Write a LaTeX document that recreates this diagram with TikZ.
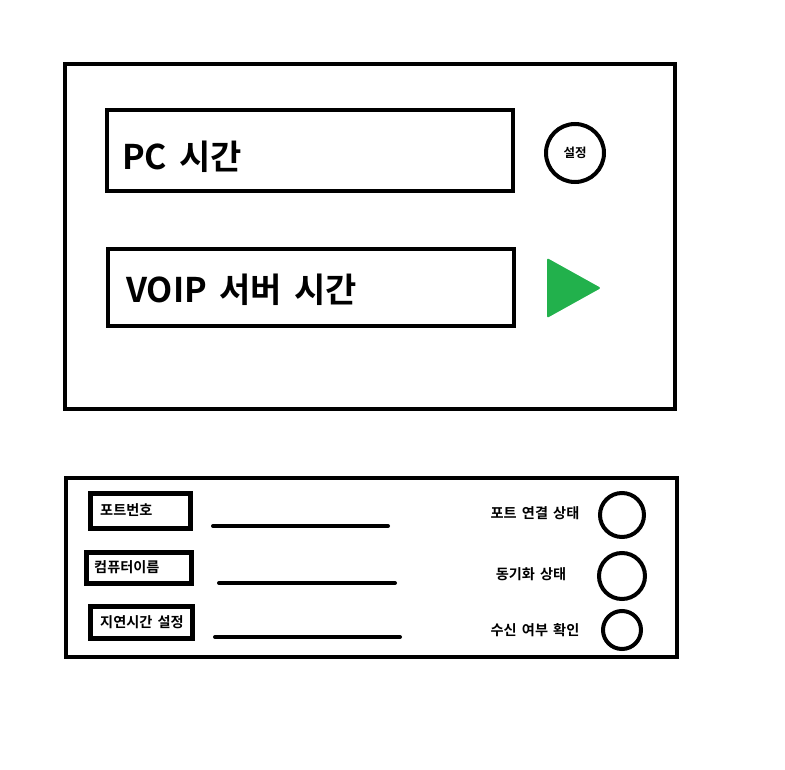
\documentclass[tikz,border=0pt]{standalone}
\usepackage{fontspec}
\setmainfont{Noto Sans CJK KR}[BoldFont={* Bold}]
\newfontfamily\kr{Noto Sans CJK KR Bold}[WordSpace=1.6]
\usetikzlibrary{shapes.geometric}
\definecolor{paintgreen}{HTML}{22B14C}
\begin{document}
\begin{tikzpicture}[x=1pt,y=-1pt,
  frame/.style={draw=black,line width=4pt},
  field/.style={draw=black,line width=4pt},
  lbl/.style={draw=black,line width=5pt,inner sep=0pt},
  rule/.style={draw=black,line width=4pt,line cap=round},
  lamp/.style={draw=black,line width=4pt,circle,inner sep=0pt},
  big/.style={font=\kr\fontsize{34}{38}\selectfont,anchor=west,inner sep=0pt},
  small/.style={font=\kr\fontsize{14.2}{16}\selectfont,inner sep=0pt}]
\useasboundingbox (0,0) rectangle (785,770);
% top panel
\draw[frame] (65,64) rectangle (675,409);
\draw[field] (107,110) rectangle (513,191);
\draw[field] (108,249) rectangle (514,326);
\node[big] (pc) at (122,157) {PC 시간};
\node[big] (voip) at (126,290) {VOIP 서버 시간};
\node[lamp,minimum width=58pt,minimum height=58pt,font=\kr\fontsize{12.5}{14}\selectfont] (set) at (575,153) {설정};
\fill[paintgreen,rounded corners=2pt] (547,258) -- (601,288) -- (547,318) -- cycle;
% bottom panel
\draw[frame] (66,478) rectangle (677,657);
\draw[lbl] (90,493) rectangle (190,528);
\draw[lbl] (86,552) rectangle (191,583);
\draw[lbl] (90,606) rectangle (192,638);
\node[small,anchor=west] (port) at (100,510) {포트번호};
\node[small,anchor=west] (comp) at (94,567) {컴퓨터이름};
\node[small,anchor=west] (delay) at (100,622) {지연시간 설정};
\coordinate (a1) at (213,526); \coordinate (b1) at (388,526);
\coordinate (a2) at (219,583); \coordinate (b2) at (395,583);
\coordinate (a3) at (215,637); \coordinate (b3) at (400,637);
\draw[rule] (a1) -- (b1);
\draw[rule] (a2) -- (b2);
\draw[rule] (a3) -- (b3);
\node[small] (s1) at (535,513) {포트 연결 상태};
\node[small] (s2) at (531,574) {동기화 상태};
\node[small] (s3) at (535,630) {수신 여부 확인};
\node[lamp,minimum size=44pt] (c1) at (622,515) {};
\node[lamp,minimum size=46pt] (c2) at (622,576) {};
\node[lamp,minimum size=38pt] (c3) at (622,630) {};
\end{tikzpicture}
\end{document}
